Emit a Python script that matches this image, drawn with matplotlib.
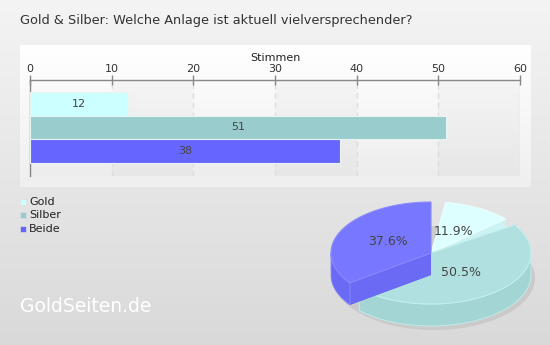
import numpy as np
import matplotlib.pyplot as plt
from matplotlib.colors import LinearSegmentedColormap
from matplotlib.patches import Rectangle, Polygon

categories = ['Gold', 'Silber', 'Beide']
votes = [12, 51, 38]
x_ticks = [0, 10, 20, 30, 40, 50, 60]
title = 'Gold & Silber: Welche Anlage ist aktuell vielversprechender?'

bar_colors = ['#ccffff', '#99cccc', '#6666ff']
top_colors = ['#ddffff', '#b0e0e0', '#7777ff']
side_colors = ['#cbf3f3', '#a4d5d5', '#6a6af5']
edge_colors = ['#eaffff', '#c4eeee', '#8a8aff']

W, H = 550, 345
fig = plt.figure(figsize=(W / 100, H / 100), dpi=100)

# full figure axes in pixel coords for background, legend, pie
bg = fig.add_axes([0, 0, 1, 1])
grad = np.linspace(0, 1, 256).reshape(-1, 1)
bg.imshow(grad, cmap=LinearSegmentedColormap.from_list('b', ['#f4f4f4', '#d9d9d9']),
          extent=[0, W, H, 0], aspect='auto', zorder=0)
bg.imshow(grad, cmap=LinearSegmentedColormap.from_list('p', ['#ffffff', '#efefef']),
          extent=[20, 531, 187, 45], aspect='auto', zorder=1)
bg.imshow(grad, cmap=LinearSegmentedColormap.from_list('a', ['#fbfbfb', '#ededed']),
          extent=[30, 520, 176, 80], aspect='auto', zorder=2)
bg.set_xlim(0, W)
bg.set_ylim(H, 0)
bg.axis('off')

bg.text(20, 24, title, fontsize=9.3, color='#333333', va='baseline', ha='left')
bg.text(275, 61, 'Stimmen', fontsize=8, color='#222222', va='baseline', ha='center')

# bar chart
ax = fig.add_axes([30 / W, 1 - 176 / H, 490 / W, 96 / H])
ax.set_facecolor('none')
ypos = np.arange(len(categories))
for lo in (10, 30, 50):
    ax.axvspan(lo, lo + 10, color='#000000', alpha=0.022, lw=0, zorder=0)
ax.barh(ypos, votes, height=1.0, color=bar_colors, edgecolor='#e8f4f4', lw=0.8, zorder=3)
for y, v in zip(ypos, votes):
    ax.text(v / 2, y, str(v), ha='center', va='center', fontsize=8, color='#444444', zorder=4)
ax.set_xlim(0, 60)
ax.set_ylim(3.05, -1.0)
ax.set_xticks(x_ticks)
ax.xaxis.tick_top()
ax.tick_params(axis='x', direction='inout', length=7, width=1, color='#888888',
               labelsize=8, labelcolor='#333333', pad=1)
ax.set_yticks([])
ax.grid(axis='x', linestyle=(0, (4, 3)), color='#dddddd', lw=1, zorder=1)
for s in ('bottom', 'right'):
    ax.spines[s].set_visible(False)
for s in ('top', 'left'):
    ax.spines[s].set_color('#888888')
    ax.spines[s].set_linewidth(1)

# legend
for i, (c, col) in enumerate(zip(categories, bar_colors)):
    yc = 202 + i * 13.3
    bg.add_patch(Rectangle((20, yc - 3), 6, 6, facecolor=col, edgecolor='#dddddd', lw=0.5, zorder=5))
    bg.text(29, yc, c, fontsize=8, color='#222222', va='center', ha='left', zorder=5)

bg.text(20, 312, 'GoldSeiten.de', fontsize=13.5, color='white', va='baseline', ha='left', zorder=5)

# 3d pie, slices separated by a small angular gap
cx, cy, rx, ry, depth = 431, 253, 100, 51, 22
gap = 8.5
start = 81.5
total = sum(votes)
fracs = [v / total for v in votes]
slices = []
a = start
for i, f in enumerate(fracs):
    a1 = a
    a2 = a - f * (360 - gap * len(votes))
    a = a2 - gap
    slices.append((i, a1, a2, np.radians((a1 + a2) / 2)))

# shadow
t = np.linspace(0, 2 * np.pi, 200)
bg.add_patch(Polygon(np.column_stack([cx + 3 + (rx + 1) * np.cos(t), cy + depth + 3 - (ry + 1) * np.sin(t)]),
                     closed=True, facecolor='#c6c6c6', edgecolor='none', alpha=0.8, zorder=5))

for i, a1, a2, m in sorted(slices, key=lambda s: -np.sin(s[3])):
    th = np.radians(np.linspace(a2, a1, 150))
    arc = np.column_stack([cx + rx * np.cos(th), cy - ry * np.sin(th)])
    top = np.vstack([[cx, cy], arc])
    bot = top + [0, depth]
    z = 6 + 0.1 * i
    bg.add_patch(Polygon(bot, closed=True, facecolor=side_colors[i], edgecolor='none', zorder=z))
    for ang in (a1, a2):
        r = np.radians(ang)
        q = np.array([[cx, cy], [cx + rx * np.cos(r), cy - ry * np.sin(r)]])
        wall = np.vstack([q, q[::-1] + [0, depth]])
        bg.add_patch(Polygon(wall, closed=True, facecolor=side_colors[i],
                             edgecolor='none', zorder=z))
    front = np.sin(th) <= 0
    if front.sum() > 1:
        fa = arc[front]
        wall = np.vstack([fa, fa[::-1] + [0, depth]])
        bg.add_patch(Polygon(wall, closed=True, facecolor=side_colors[i],
                             edgecolor=edge_colors[i], lw=0.6, zorder=z))
    bg.add_patch(Polygon(top, closed=True, facecolor=top_colors[i],
                         edgecolor=edge_colors[i], lw=0.8, zorder=z + 0.05))
    lr = 0.48
    bg.text(cx + rx * lr * np.cos(m), cy - ry * lr * np.sin(m),
            f'{fracs[i] * 100:.1f}%', fontsize=9, color='#444444',
            ha='center', va='center', zorder=8)

fig.savefig('out.png', dpi=100)
